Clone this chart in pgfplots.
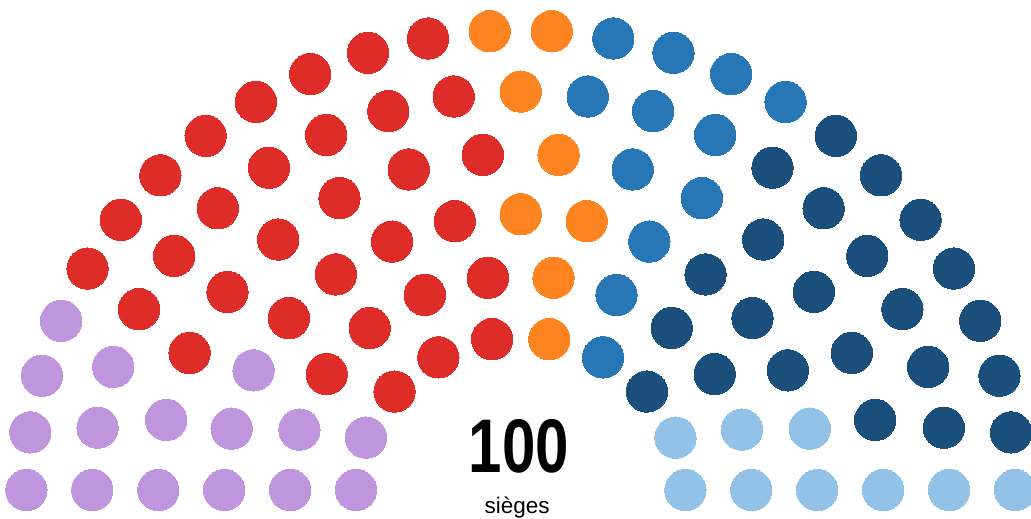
\documentclass[border=0pt]{standalone}
\usepackage{pgfplots}
\pgfplotsset{compat=1.18}
\usepackage{fontspec}
\setmainfont{Liberation Sans}
\newfontfamily\narrowfont{Liberation Sans}[FakeStretch=0.79]
\definecolor{cpurple}{HTML}{BF96DD}
\definecolor{cred}{HTML}{DE2D28}
\definecolor{corange}{HTML}{FD8421}
\definecolor{cmidblue}{HTML}{2776B6}
\definecolor{cdarkblue}{HTML}{1B4F7B}
\definecolor{clightblue}{HTML}{93C2E9}
\pgfplotsset{seat/.style={only marks, mark=*, mark size=15.5pt, color=#1, mark options={draw=none, fill=#1, line width=0pt}}}
\begin{document}
\begin{tikzpicture}
\begin{axis}[scale only axis, width=773.25pt, height=389.25pt,
  xmin=-520.7, xmax=510.3, ymin=-31.18, ymax=526.9,
  axis lines=none, ticks=none, clip=false]
\coordinate (bl) at (rel axis cs:0,0);
\coordinate (tr) at (rel axis cs:1,1);
% purple
\addplot[seat=cpurple] table[x expr={\thisrow{r}*cos(\thisrow{a})}, y expr={\thisrow{r}*sin(\thisrow{a})}] {
a r
180 164.7
160 164.7
180 230.6
163.636 230.6
180 296.5
167.143 296.5
154.286 296.5
180 362.4
168 362.4
180 428.4
171 428.4
162 428.4
180 494.3
172.8 494.3
165.6 494.3
158.4 494.3
};
% red
\addplot[seat=cred] table[x expr={\thisrow{r}*cos(\thisrow{a})}, y expr={\thisrow{r}*sin(\thisrow{a})}] {
a r
140 164.7
120 164.7
100 164.7
147.273 230.6
130.909 230.6
114.545 230.6
98.182 230.6
141.429 296.5
128.571 296.5
115.714 296.5
102.857 296.5
156 362.4
144 362.4
132 362.4
120 362.4
108 362.4
96 362.4
153 428.4
144 428.4
135 428.4
126 428.4
117 428.4
108 428.4
99 428.4
151.2 494.3
144 494.3
136.8 494.3
129.6 494.3
122.4 494.3
115.2 494.3
108 494.3
100.8 494.3
};
% orange
\addplot[seat=corange] table[x expr={\thisrow{r}*cos(\thisrow{a})}, y expr={\thisrow{r}*sin(\thisrow{a})}] {
a r
80 164.7
81.818 230.6
90 296.5
77.143 296.5
84 362.4
90 428.4
93.6 494.3
86.4 494.3
};
% mid blue
\addplot[seat=cmidblue] table[x expr={\thisrow{r}*cos(\thisrow{a})}, y expr={\thisrow{r}*sin(\thisrow{a})}] {
a r
60 164.7
65.455 230.6
64.286 296.5
72 362.4
60 362.4
81 428.4
72 428.4
63 428.4
79.2 494.3
72 494.3
64.8 494.3
57.6 494.3
};
% dark blue
\addplot[seat=cdarkblue] table[x expr={\thisrow{r}*cos(\thisrow{a})}, y expr={\thisrow{r}*sin(\thisrow{a})}] {
a r
40 164.7
49.091 230.6
32.727 230.6
51.429 296.5
38.571 296.5
25.714 296.5
48 362.4
36 362.4
24 362.4
12 362.4
54 428.4
45 428.4
36 428.4
27 428.4
18 428.4
9 428.4
50.4 494.3
43.2 494.3
36 494.3
28.8 494.3
21.6 494.3
14.4 494.3
7.2 494.3
};
% light blue
\addplot[seat=clightblue] table[x expr={\thisrow{r}*cos(\thisrow{a})}, y expr={\thisrow{r}*sin(\thisrow{a})}] {
a r
20 164.7
0 164.7
16.364 230.6
0 230.6
12.857 296.5
0 296.5
0 362.4
0 428.4
0 494.3
};
\node[anchor=base, inner sep=0pt, font=\narrowfont\bfseries\fontsize{57pt}{60pt}\selectfont] at (axis cs:-2,18.3) {100};
\node[anchor=base, inner sep=0pt, font=\fontsize{16.9pt}{18pt}\selectfont] at (axis cs:-3.5,-25.5) {sièges};
\end{axis}
\pgfresetboundingbox
\useasboundingbox (bl) rectangle (tr);
\end{tikzpicture}
\end{document}
